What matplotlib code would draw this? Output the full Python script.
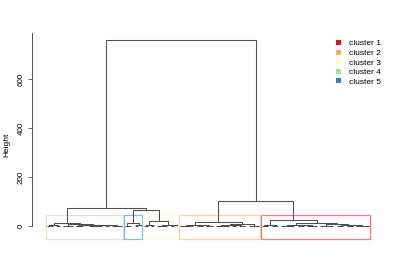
import matplotlib
matplotlib.use("Agg")
import matplotlib.pyplot as plt
from matplotlib.patches import Rectangle, Patch

plt.rcParams['font.family'] = ['Liberation Sans', 'DejaVu Sans']

# merge trees: [height, left, right], a leaf is 0
green = [12.0,
         [3.0, [1.5, 0, [1.0, 0, 0]], [2.0, 0, 0]],
         [7.0,
          [2.2, [0.9, 0, 0], [1.4, 0, 0]],
          [5.0,
           [2.6, [1.1, 0, [0.5, 0, 0]], 0],
           [3.8, [2.1, [0.7, 0, 0], [1.2, 0, [0.5, 0, 0]]],
                 [2.9, [1.0, 0, 0], [1.6, [0.6, 0, 0], [0.9, 0, 0]]]]]]]
blue = [11.0, [1.8, 0, [0.7, 0, 0]], [4.0, [1.2, 0, 0], 0]]
yellow = [21.0,
          [3.0, [1.3, 0, 0], [0.9, 0, 0]],
          [5.0, [2.0, [0.8, 0, 0], [1.1, 0, 0]], [3.2, [1.0, 0, 0], 0]]]
orange = [16.0,
          [4.0, [2.4, [0.8, 0, 0], [1.5, 0, [0.6, 0, 0]]],
                [3.1, [1.0, 0, [0.4, 0, 0]], [1.7, 0, [0.9, 0, 0]]]],
          [8.0,
           [3.6, [2.0, [0.7, 0, 0], [1.2, 0, [0.5, 0, 0]]],
                 [2.7, [0.9, 0, 0], [1.4, 0, [0.6, 0, 0]]]],
           [2.5, [1.1, 0, 0], [0.7, 0, 0]]]]
red = [27.0,
       [4.0, [1.6, 0, [0.8, 0, 0]], [2.3, [0.9, 0, 0], 0]],
       [11.0,
        [3.4, [1.9, [0.7, 0, 0], [1.1, 0, [0.4, 0, 0]]],
              [2.6, [1.3, 0, [0.6, 0, 0]], [0.8, [0.3, 0, 0], [0.5, 0, 0]]]],
        [7.0,
         [2.1, [0.9, 0, 0], [1.2, 0, [0.5, 0, 0]]],
         [4.5, [1.5, [0.6, 0, 0], 0],
               [3.0, [1.0, 0, [0.4, 0, 0]],
                     [1.8, [0.7, 0, 0], [0.5, 0, [0.3, 0, 0]]]]]]]]

h_blue_yellow = 65.0
h_left = 73.0
h_right = 102.0
h_root = 759.0

tree = [h_root, [h_left, green, [h_blue_yellow, blue, yellow]], [h_right, orange, red]]

# clusters in left-to-right order
cluster_trees = [green, blue, yellow, orange, red]
cluster_ids = [4, 5, 3, 2, 1]
legend_labels = ['cluster 1', 'cluster 2', 'cluster 3', 'cluster 4', 'cluster 5']
legend_colors = ['#D7191C', '#FDAE61', '#FFFFBF', '#ABDDA4', '#2B83BA']
yticks = [0, 200, 400, 600]
k = 5


def count_leaves(node):
    if node == 0:
        return 1
    return count_leaves(node[1]) + count_leaves(node[2])


def all_heights(node, out):
    if node != 0:
        out.append(node[0])
        all_heights(node[1], out)
        all_heights(node[2], out)
    return out


segments = []
counter = [0]


def layout(node):
    # returns (x, height) of node, leaves at 1..n
    if node == 0:
        counter[0] += 1
        return counter[0], 0.0
    xl, hl = layout(node[1])
    xr, hr = layout(node[2])
    h = node[0]
    segments.append(([xl, xl, xr, xr], [hl, h, h, hr]))
    return (xl + xr) / 2.0, h


layout(tree)
n = counter[0]

fig = plt.figure(figsize=(4, 2.8), dpi=100)
ax = fig.add_axes([0.08, 0.146, 0.88, 0.736])

for xs, ys in segments:
    ax.plot(xs, ys, color='#505050', lw=0.75, solid_capstyle='butt')

ybottom, ytop = -53, 788
heights = sorted(all_heights(tree, []), reverse=True)
cut = (heights[k - 2] + heights[k - 1]) / 2.0

start = 0
for sub, cid in zip(cluster_trees, cluster_ids):
    size = count_leaves(sub)
    col = legend_colors[cid - 1]
    ax.add_patch(Rectangle((start + 0.66, ybottom), size - 0.33, cut - ybottom,
                           fill=False, edgecolor=col, alpha=0.55, lw=0.9, clip_on=False))
    start += size

ax.set_xlim(0.5 - 0.04 * n, n + 0.5 + 0.04 * n)
ax.set_ylim(ybottom, ytop)

for s in ['top', 'right', 'bottom']:
    ax.spines[s].set_visible(False)
ax.spines['left'].set_bounds(0, ytop)
ax.spines['left'].set_linewidth(0.7)
ax.spines['left'].set_color('#505050')
ax.set_xticks([])
ax.set_yticks(yticks)
ax.tick_params(axis='y', length=3, width=0.6, color='#505050', labelsize=5.8, pad=2,
               labelrotation=90)
for lab in ax.get_yticklabels():
    lab.set_va('center')
ax.set_ylabel('Height', fontsize=6)
ax.yaxis.label.set_va('center')
ax.yaxis.set_label_coords(-0.072, 0.46)

handles = [Patch(facecolor=c, edgecolor='none') for c in legend_colors]
ax.legend(handles, legend_labels, loc='upper left', bbox_to_anchor=(336 / 400, 1 - 40 / 280),
          bbox_transform=fig.transFigure, frameon=False, fontsize=6,
          handlelength=0.65, handleheight=0.55, handletextpad=0.9,
          labelspacing=0.25, borderpad=0, borderaxespad=0)

fig.savefig('out.png', dpi=100)
